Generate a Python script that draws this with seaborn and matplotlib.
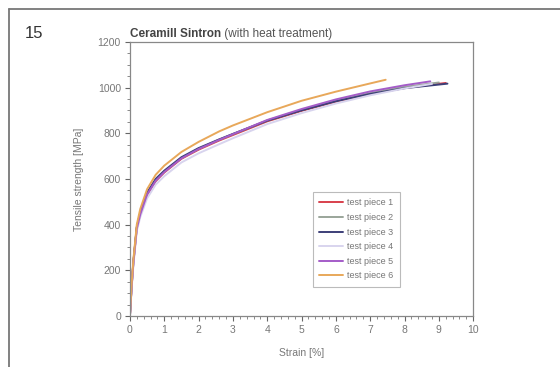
import matplotlib
matplotlib.use("Agg")
import matplotlib.pyplot as plt
import seaborn as sns
import pandas as pd
from matplotlib.lines import Line2D
from matplotlib.ticker import MultipleLocator

# ---- data ----
labels = ["test piece 1", "test piece 2", "test piece 3",
          "test piece 4", "test piece 5", "test piece 6"]

strain_1 = [0, 0.05, 0.1, 0.2, 0.3, 0.5, 0.75, 1.0, 1.5, 2.0, 2.6, 3, 4, 5, 6, 7, 8, 9.2]
stress_1 = [0, 130, 235, 385, 445, 530, 590, 628, 688, 728, 768, 792, 852, 898, 938, 972, 998, 1020]

strain_2 = [0, 0.05, 0.1, 0.2, 0.3, 0.5, 0.75, 1.0, 1.5, 2.0, 2.6, 3, 4, 5, 6, 7, 8, 9.0]
stress_2 = [0, 135, 240, 390, 450, 535, 595, 632, 692, 732, 772, 796, 856, 902, 942, 976, 1003, 1022]

strain_3 = [0, 0.05, 0.1, 0.2, 0.3, 0.5, 0.75, 1.0, 1.5, 2.0, 2.6, 3, 4, 5, 6, 7, 8, 9.25]
stress_3 = [0, 130, 232, 388, 452, 540, 600, 636, 695, 735, 773, 797, 855, 900, 940, 972, 997, 1017]

strain_4 = [0, 0.05, 0.1, 0.2, 0.3, 0.5, 0.75, 1.0, 1.5, 2.0, 2.6, 3, 4, 5, 6, 7, 8, 8.8]
stress_4 = [0, 120, 220, 372, 432, 515, 575, 612, 672, 712, 752, 778, 840, 888, 930, 966, 996, 1016]

strain_5 = [0, 0.05, 0.1, 0.2, 0.3, 0.5, 0.75, 1.0, 1.5, 2.0, 2.6, 3, 4, 5, 6, 7, 8, 8.75]
stress_5 = [0, 128, 230, 382, 444, 532, 592, 630, 690, 731, 771, 796, 858, 906, 948, 983, 1010, 1027]

strain_6 = [0, 0.05, 0.1, 0.2, 0.3, 0.5, 0.75, 1.0, 1.5, 2.0, 2.6, 3, 4, 5, 5.5, 6, 7, 7.45]
stress_6 = [0, 140, 245, 400, 468, 555, 618, 658, 718, 762, 808, 834, 892, 942, 962, 982, 1018, 1034]

colors = ["#d8404c", "#9aa59a", "#3c3f78", "#d8d4ee", "#a45cc8", "#e8a85a"]

strains = [strain_1, strain_2, strain_3, strain_4, strain_5, strain_6]
stresses = [stress_1, stress_2, stress_3, stress_4, stress_5, stress_6]

rows = []
for lab, sx, sy in zip(labels, strains, stresses):
    for i, (a, b) in enumerate(zip(sx, sy)):
        rows.append({"piece": lab, "strain": a, "stress": b, "order": i})
df = pd.DataFrame(rows)

# ---- figure ----
sns.set_theme(style="white")
plt.rcParams["font.family"] = ["Liberation Sans", "DejaVu Sans"]

fig = plt.figure(figsize=(5.6, 3.67), dpi=100)
ax = fig.add_axes([0.232, 0.139, 0.613, 0.747])

sns.lineplot(data=df, x="strain", y="stress", hue="piece", palette=colors,
             sort=False, estimator=None, units="piece", linewidth=1.4, ax=ax)

ax.set_xlim(0, 10)
ax.set_ylim(0, 1200)
ax.xaxis.set_major_locator(MultipleLocator(1))
ax.xaxis.set_minor_locator(MultipleLocator(0.2))
ax.yaxis.set_major_locator(MultipleLocator(200))
ax.yaxis.set_minor_locator(MultipleLocator(50))
ax.tick_params(which="major", direction="out", length=3.5, width=0.8,
               color="#666666", labelsize=7.5, labelcolor="#777777", pad=3,
               bottom=True, left=True)
ax.tick_params(which="minor", direction="out", length=2, width=0.6,
               color="#777777", bottom=True, left=True)
for s in ax.spines.values():
    s.set_color("#888888")
    s.set_linewidth(0.9)

ax.set_xlabel("Strain [%]", fontsize=7.5, color="#777777", labelpad=9)
ax.set_ylabel("Tensile strength [MPa]", fontsize=7.5, color="#777777", labelpad=10)

leg = ax.legend(loc="lower left", bbox_to_anchor=(0.52, 0.09), fontsize=6.5,
                frameon=True, fancybox=False, handlelength=2.6,
                labelspacing=0.62, borderpad=0.7, handletextpad=0.5)
leg.get_frame().set_edgecolor("#aaaaaa")
leg.get_frame().set_linewidth(0.8)
for t in leg.get_texts():
    t.set_color("#777777")

# title: bold part + normal part
t1 = ax.text(0.0, 1.005, "Ceramill Sintron", transform=ax.transAxes,
             fontsize=8.5, fontweight="bold", color="#444444", ha="left", va="bottom")
ax.annotate(" (with heat treatment)", xy=(1, 0), xycoords=t1, fontsize=8.5,
            color="#555555", ha="left", va="bottom")

# figure number
fig.text(0.045, 0.91, "15", fontsize=12, color="#333333", ha="left", va="center")

# page frame (top & left)
fig.add_artist(Line2D([0.016, 1.0], [0.975, 0.975], transform=fig.transFigure,
                      color="#777777", linewidth=1.3))
fig.add_artist(Line2D([0.016, 0.016], [0.0, 0.975], transform=fig.transFigure,
                      color="#777777", linewidth=1.3))

fig.savefig("out.png", dpi=100)
